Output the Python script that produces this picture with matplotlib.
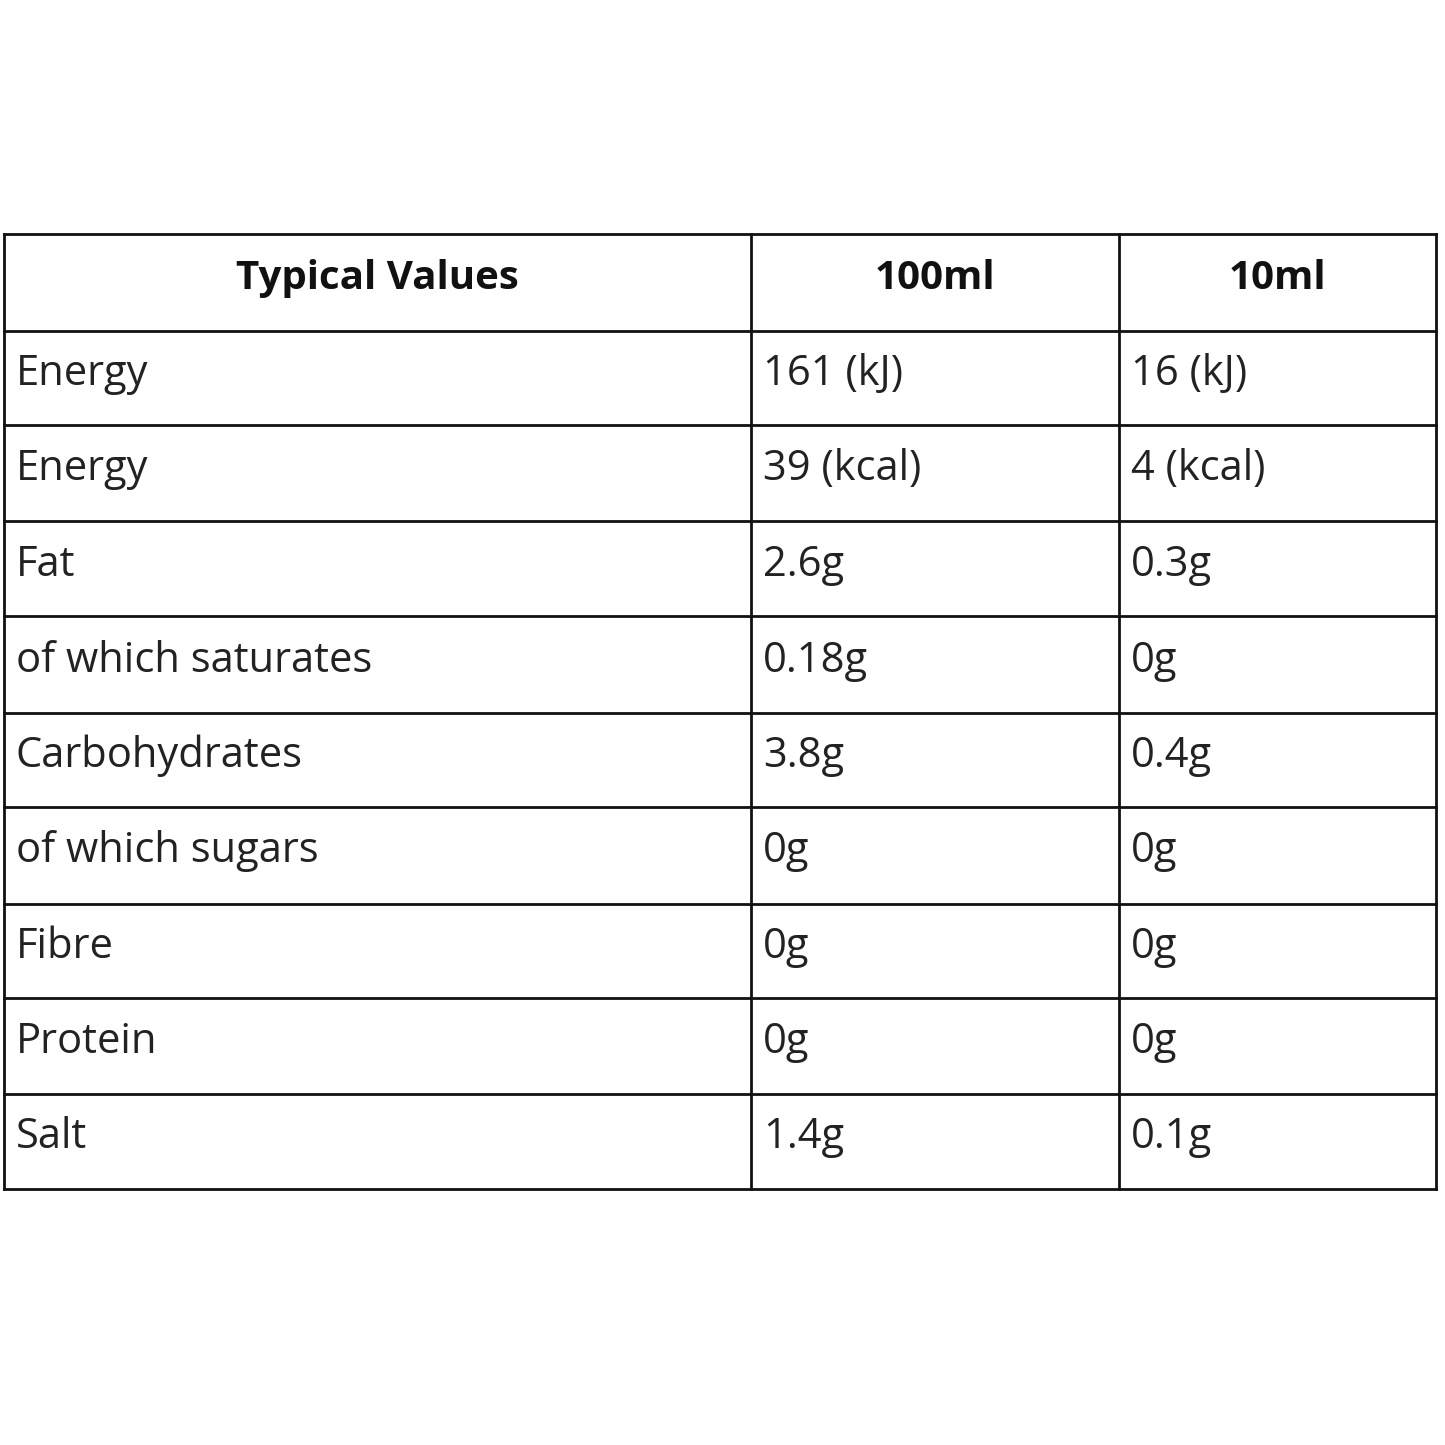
import matplotlib
matplotlib.use("Agg")
import matplotlib.pyplot as plt

headers = ["Typical Values", "100ml", "10ml"]
nutrients = ["Energy", "Energy", "Fat", "of which saturates", "Carbohydrates",
             "of which sugars", "Fibre", "Protein", "Salt"]
per_100ml = ["161 (kJ)", "39 (kcal)", "2.6g", "0.18g", "3.8g", "0g", "0g", "0g", "1.4g"]
per_10ml = ["16 (kJ)", "4 (kcal)", "0.3g", "0g", "0.4g", "0g", "0g", "0g", "0.1g"]

fig = plt.figure(figsize=(14.45, 14.45), dpi=100)
ax = fig.add_axes([0, 0, 1, 1])
ax.set_xlim(0, 1445)
ax.set_ylim(1445, 0)
ax.axis("off")

xs = [4, 751, 1119, 1436]
ys = [234, 331, 425, 521, 616, 713, 807, 904, 998, 1094, 1189]
lc = "#111111"
for x in xs:
    ax.plot([x, x], [ys[0], ys[-1]], color=lc, lw=2, solid_capstyle="projecting")
for y in ys:
    ax.plot([xs[0], xs[-1]], [y, y], color=lc, lw=2, solid_capstyle="projecting")

font = "Open Sans"
for i, h in enumerate(headers):
    ax.text((xs[i] + xs[i+1]) / 2, (ys[0] + ys[1]) / 2 - 4, h, ha="center", va="center",
            fontsize=29, fontweight="bold", family=font, color="#111111")
for r in range(len(nutrients)):
    yc = (ys[r+1] + ys[r+2]) / 2 - 4
    for c, val in enumerate([nutrients[r], per_100ml[r], per_10ml[r]]):
        ax.text(xs[c] + 12, yc, val, ha="left", va="center", fontsize=30,
                family=font, color="#222222")

fig.savefig("out.png", dpi=100, facecolor="white")
